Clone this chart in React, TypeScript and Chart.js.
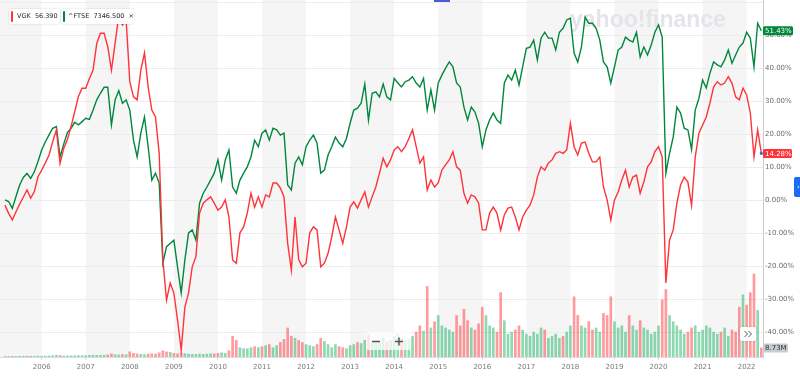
import { useEffect, useRef } from "react";
import { Chart, registerables } from "chart.js";

Chart.register(...registerables);

// First month of the data (March 2005), one value per month up to May 2022
const START_YEAR = 2005;
const START_MONTH = 3;

// VGK % change since start
const vgk = [
  -1.4, -3.9, -5.9, -3.4, -1.1, 1.0, 3.2, 0.7, 2.7, 7.2,
  9.2, 11.4, 13.8, 17.8, 21.4, 11.2, 15.8, 18.5, 22.4, 26.9, 31.5, 34.0,
  34.0, 37.0, 39.5, 47.6, 50.7, 50.7, 46.6, 39.5, 47.6, 56.2, 53.2, 54.7,
  36.0, 31.4, 30.5, 39.5, 44.7, 34.4, 27.4, 25.3, 14.3, -18.0, -30.2, -25.0,
  -28.0, -36.2, -45.3, -32.3, -28.0, -20.1, -17.0, -3.8, -0.8, 0.2, 1.1, -0.8,
  -2.9, -2.0, 0.2, -5.0, -18.0, -19.0, -9.8, -8.0, -3.8, 2.2, -2.0, 1.1,
  -2.0, 1.7, 1.1, 5.3, 5.3, 3.8, 1.1, -13.0, -21.1, -5.0, -18.0, -20.1,
  -19.0, -9.8, -8.0, -8.9, -20.1, -19.0, -16.0, -11.0, -5.0, -8.9, -13.0, -8.0,
  -2.0, -0.4, -2.3, 0.2, 2.6, -2.0, 1.1, 4.1, 8.3, 12.8, 10.2, 12.3,
  15.3, 16.3, 14.8, 16.3, 18.8, 21.4, 16.3, 11.3, 13.2, 3.2, 6.2, 4.1,
  5.3, 9.2, 10.8, 12.3, 14.8, 10.2, 9.2, 2.2, -0.8, 1.7, 1.1, -0.8,
  -8.9, -8.9, -3.8, -2.0, -3.8, -9.0, -4.4, -2.3, -2.0, -5.0, -8.9, -5.0,
  -2.9, -1.4, 1.7, 7.1, 10.2, 9.2, 11.3, 12.3, 14.3, 14.8, 14.3, 15.3,
  23.4, 16.3, 13.8, 17.4, 17.7, 14.3, 11.7, 11.7, 13.2, 4.1, 0.2, -5.9,
  0.2, 2.6, 6.2, 9.2, 4.1, 7.1, 7.7, 2.2, 5.6, 10.2, 11.7, 14.8,
  16.3, 13.2, -25.0, -12.0, -8.9, -0.8, 4.7, 7.1, 5.6, -1.5, 13.2, 20.4,
  22.9, 25.3, 29.5, 34.4, 36.0, 35.0, 35.6, 37.5, 35.6, 31.4, 30.5, 34.1,
  32.0, 26.5, 13.2, 21.4, 14.28,
];

// ^FTSE % change since start
const ftse = [
  0.2, -0.3, -2.4, 1.2, 4.7, 7.0, 8.2, 6.7, 8.7, 11.8,
  15.3, 17.8, 19.9, 21.9, 22.4, 13.2, 17.1, 20.6, 21.9, 23.7, 22.9, 23.9,
  24.9, 24.6, 27.4, 30.5, 32.5, 34.3, 34.3, 22.9, 30.5, 33.3, 29.5, 30.5,
  27.4, 18.3, 13.2, 20.4, 25.3, 16.3, 6.2, 8.3, 5.3, -19.0, -14.0, -13.0,
  -12.0, -20.1, -28.0, -18.0, -9.8, -8.9, -12.0, -0.8, 2.2, 4.1, 6.2, 8.3,
  12.3, 6.2, 12.3, 15.3, 4.1, 2.2, 6.2, 8.3, 10.2, 13.2, 18.3, 16.3,
  20.4, 21.4, 18.3, 21.9, 21.4, 19.8, 20.4, 4.7, 3.2, 11.3, 13.2, 10.8,
  16.3, 18.3, 19.8, 17.4, 8.3, 9.2, 13.8, 16.3, 19.2, 17.4, 16.3, 18.8,
  23.4, 27.4, 28.0, 29.5, 35.3, 24.4, 32.5, 32.9, 31.4, 35.3, 31.4, 30.5,
  37.0, 35.6, 34.4, 36.0, 36.5, 37.5, 35.6, 34.4, 37.0, 27.4, 33.5, 27.4,
  35.6, 38.0, 40.1, 42.0, 40.5, 35.6, 34.4, 28.3, 24.4, 28.3, 26.8, 23.4,
  16.3, 21.4, 24.4, 26.5, 24.4, 23.4, 35.6, 38.0, 36.5, 39.5, 35.0, 40.5,
  46.1, 46.5, 48.6, 42.6, 49.2, 51.0, 49.2, 49.2, 45.6, 51.0, 52.2, 54.7,
  55.3, 44.7, 42.0, 46.5, 55.6, 53.7, 53.7, 52.2, 48.6, 42.0, 40.5, 35.6,
  40.5, 45.6, 46.5, 49.5, 48.6, 48.0, 51.0, 43.5, 46.5, 44.1, 47.1, 51.0,
  53.2, 49.5, 8.3, 14.3, 19.2, 28.3, 26.5, 21.9, 21.4, 15.5, 27.4, 31.0,
  36.5, 34.1, 38.6, 42.0, 41.1, 40.5, 42.6, 45.6, 41.6, 44.1, 46.5, 47.7,
  51.0, 49.2, 40.5, 53.7, 51.43,
];

// VGK volume, millions
const volume = [
  0.5, 0.5, 0.6, 0.5, 0.6, 0.7, 0.8, 0.6, 0.7, 0.8,
  0.8, 0.9, 1.0, 1.2, 1.6, 1.5, 1.0, 1.0, 1.1, 1.2, 1.3, 1.4,
  1.4, 1.6, 1.8, 1.6, 1.5, 1.8, 2.0, 3.0, 2.2, 2.0, 2.4, 2.2,
  5.0, 3.5, 3.0, 2.6, 2.4, 2.8, 3.0, 2.8, 4.0, 6.0, 5.0, 4.5,
  3.5, 3.0, 4.0, 3.2, 2.8, 2.6, 2.6, 2.8, 2.6, 2.8, 3.2, 3.0,
  3.5, 4.0, 3.5, 6.0, 20.0, 16.0, 9.0, 8.0, 8.0, 9.0, 10.0, 9.0,
  10.0, 11.0, 12.0, 9.0, 11.0, 14.0, 17.0, 28.0, 20.0, 18.0, 16.0, 14.0,
  12.0, 11.0, 10.0, 12.0, 18.0, 15.0, 12.0, 9.0, 12.0, 10.0, 9.0, 8.0,
  11.0, 12.0, 14.0, 13.0, 16.0, 22.0, 14.0, 15.0, 14.0, 18.0, 15.0, 16.0,
  20.0, 22.0, 18.0, 16.0, 17.0, 20.0, 24.0, 30.0, 25.0, 68.0, 28.0, 34.0,
  40.0, 30.0, 28.0, 26.0, 24.0, 40.0, 30.0, 46.0, 35.0, 28.0, 26.0, 32.0,
  48.0, 40.0, 30.0, 28.0, 24.0, 62.0, 35.0, 22.0, 24.0, 26.0, 30.0, 26.0,
  22.0, 20.0, 24.0, 22.0, 28.0, 26.0, 18.0, 20.0, 22.0, 18.0, 20.0, 24.0,
  30.0, 58.0, 40.0, 30.0, 28.0, 34.0, 26.0, 28.0, 24.0, 42.0, 40.0, 58.0,
  34.0, 28.0, 30.0, 24.0, 40.0, 30.0, 26.0, 35.0, 28.0, 26.0, 22.0, 24.0,
  30.0, 55.0, 65.0, 40.0, 34.0, 30.0, 26.0, 22.0, 24.0, 28.0, 30.0, 24.0,
  26.0, 30.0, 28.0, 24.0, 22.0, 24.0, 28.0, 20.0, 26.0, 24.0, 48.0, 60.0,
  50.0, 62.0, 80.0, 45.0, 8.73,
];

const yearTicks = [2006, 2007, 2008, 2009, 2010, 2011, 2012, 2013, 2014, 2015, 2016, 2017, 2018, 2019, 2020, 2021, 2022];
const pctTicks = [-40, -30, -20, -10, 0, 10, 20, 30, 40, 50, 60];
const shadedYears = [2005, 2007, 2009, 2011, 2013, 2015, 2017, 2019, 2021];

const vgkQuote = "56.390";
const ftseQuote = "7346.500";
const vgkBadge = "14.28%";
const ftseBadge = "51.43%";
const volBadge = "8.73M";

const months = vgk.map((_, i) => {
  const m = START_MONTH - 1 + i;
  return `${START_YEAR + Math.floor(m / 12)}-${String((m % 12) + 1).padStart(2, "0")}`;
});
const toYear = (label: string) => {
  const [y, m] = label.split("-").map(Number);
  return y + (m - 1) / 12;
};

const RED = "#ff333a";
const GREEN = "#00873c";
const FONT = "'DejaVu Sans', sans-serif";

function roundRect(ctx: CanvasRenderingContext2D, x: number, y: number, w: number, h: number, r: number) {
  ctx.beginPath();
  ctx.moveTo(x + r, y);
  ctx.lineTo(x + w - r, y);
  ctx.quadraticCurveTo(x + w, y, x + w, y + r);
  ctx.lineTo(x + w, y + h - r);
  ctx.quadraticCurveTo(x + w, y + h, x + w - r, y + h);
  ctx.lineTo(x + r, y + h);
  ctx.quadraticCurveTo(x, y + h, x, y + h - r);
  ctx.lineTo(x, y + r);
  ctx.quadraticCurveTo(x, y, x + r, y);
  ctx.closePath();
}

const bgPlugin = {
  id: "bgBands",
  beforeDraw(chart: any) {
    const { ctx, chartArea, scales } = chart;
    ctx.save();
    ctx.fillStyle = "#ffffff";
    ctx.fillRect(0, 0, chart.width, chart.height);
    ctx.fillStyle = "#f5f5f5";
    shadedYears.forEach((yr) => {
      const x0 = Math.max(chartArea.left, scales.x.getPixelForValue(yr));
      const x1 = Math.min(chartArea.right, scales.x.getPixelForValue(yr + 1));
      if (x1 > x0) ctx.fillRect(x0, chartArea.top, x1 - x0, chartArea.bottom - chartArea.top);
    });
    ctx.restore();
  },
  beforeDatasetsDraw(chart: any) {
    const { ctx } = chart;
    ctx.save();
    ctx.fillStyle = "#e4e4ea";
    ctx.font = `bold 23px 'Liberation Sans', Arial, sans-serif`;
    ctx.textBaseline = "alphabetic";
    ctx.textAlign = "left";
    ctx.fillText("yahoo!finance", 570, 27);
    ctx.restore();
  },
};

const overlayPlugin = {
  id: "overlays",
  afterDraw(chart: any) {
    const { ctx, chartArea, scales } = chart;
    ctx.save();
    const badge = (text: string, value: number, bg: string, fg: string, w: number) => {
      const y = scales.y.getPixelForValue(value);
      ctx.fillStyle = bg;
      roundRect(ctx, chartArea.right, y - 4.5, w, 9, 1.5);
      ctx.fill();
      ctx.fillStyle = fg;
      ctx.font = `7px ${FONT}`;
      ctx.textAlign = "left";
      ctx.textBaseline = "middle";
      ctx.fillText(text, chartArea.right + 2, y + 0.5);
    };
    badge(ftseBadge, ftse[ftse.length - 1], GREEN, "#ffffff", 30);
    badge(vgkBadge, vgk[vgk.length - 1], RED, "#ffffff", 29);

    // volume badge
    const vy = scales.yv.getPixelForValue(volume[volume.length - 1]);
    ctx.fillStyle = "#c8cbd2";
    roundRect(ctx, chartArea.right, vy - 4.5, 25, 9, 1.5);
    ctx.fill();
    ctx.fillStyle = "#2c2f36";
    ctx.font = `7px ${FONT}`;
    ctx.textBaseline = "middle";
    ctx.fillText(volBadge, chartArea.right + 2, vy + 0.5);

    // end point dot
    const ex = scales.x.getPixelForValue(toYear(months[months.length - 1]));
    const ey = scales.y.getPixelForValue(vgk[vgk.length - 1]);
    ctx.fillStyle = "#2a6cf0";
    ctx.beginPath();
    ctx.arc(ex, ey, 1.6, 0, Math.PI * 2);
    ctx.fill();

    // blue side tab
    ctx.fillStyle = "#1a6cf5";
    roundRect(ctx, 794, 177, 10, 20, 2);
    ctx.fill();
    ctx.fillStyle = "#ffffff";
    ctx.font = `7px ${FONT}`;
    ctx.fillText("›", 797, 187);

    // top blue marker
    ctx.fillStyle = "#4b5bd6";
    ctx.fillRect(434, 0, 16, 2);

    // zoom panel
    ctx.fillStyle = "rgba(255,255,255,0.75)";
    roundRect(ctx, 366, 332, 45, 18, 2);
    ctx.fill();
    ctx.strokeStyle = "#555";
    ctx.lineWidth = 1.5;
    ctx.beginPath();
    ctx.moveTo(372, 341.5);
    ctx.lineTo(380, 341.5);
    ctx.moveTo(395, 341.5);
    ctx.lineTo(403, 341.5);
    ctx.moveTo(399, 337.5);
    ctx.lineTo(399, 345.5);
    ctx.stroke();

    // forward button
    ctx.shadowColor = "rgba(0,0,0,0.2)";
    ctx.shadowBlur = 2;
    ctx.fillStyle = "#ffffff";
    roundRect(ctx, 740, 327, 16, 14, 2);
    ctx.fill();
    ctx.shadowBlur = 0;
    ctx.strokeStyle = "#555";
    ctx.lineWidth = 1;
    ctx.beginPath();
    ctx.moveTo(744.5, 331);
    ctx.lineTo(747.5, 334);
    ctx.lineTo(744.5, 337);
    ctx.moveTo(748.5, 331);
    ctx.lineTo(751.5, 334);
    ctx.lineTo(748.5, 337);
    ctx.stroke();
    ctx.restore();
  },
};

export default function App() {
  const canvasRef = useRef<HTMLCanvasElement | null>(null);

  useEffect(() => {
    document.body.style.margin = "0";
    const canvas = canvasRef.current;
    if (!canvas) return;
    const xs = months.map(toYear);
    const chart = new Chart(canvas, {
      type: "line",
      data: {
        datasets: [
          {
            type: "line",
            label: "VGK",
            data: xs.map((x, i) => ({ x, y: vgk[i] })),
            borderColor: RED,
            borderWidth: 1.4,
            pointRadius: 0,
            tension: 0,
            yAxisID: "y",
            order: 1,
          },
          {
            type: "line",
            label: "^FTSE",
            data: xs.map((x, i) => ({ x, y: ftse[i] })),
            borderColor: GREEN,
            borderWidth: 1.4,
            pointRadius: 0,
            tension: 0,
            yAxisID: "y",
            order: 2,
          },
          {
            type: "bar",
            label: "Volume",
            data: xs.map((x, i) => ({ x, y: volume[i] })),
            backgroundColor: volume.map((_, i) =>
              i > 0 && vgk[i] < vgk[i - 1] ? "rgba(255,55,60,0.5)" : "rgba(0,170,85,0.45)"
            ),
            barThickness: 2,
            yAxisID: "yv",
            order: 3,
          },
        ] as any,
      },
      options: {
        animation: false,
        responsive: false,
        maintainAspectRatio: false,
        layout: { padding: 0, autoPadding: false },
        plugins: { legend: { display: false }, tooltip: { enabled: false } },
        scales: {
          x: {
            type: "linear",
            offset: false,
            min: 2005.054,
            max: 2022.371,
            afterBuildTicks: (s: any) => {
              s.ticks = yearTicks.map((v) => ({ value: v }));
            },
            afterFit: (s: any) => {
              s.height = 25;
              s.paddingLeft = 0;
              s.paddingRight = 0;
            },
            ticks: {
              autoSkip: false,
              maxRotation: 0,
              padding: 3,
              color: "#7a7a7a",
              font: { family: FONT, size: 7 },
              callback: (v: any) => String(v),
            },
            grid: { offset: false, drawOnChartArea: false, tickLength: 3, color: "#d8d8d8" },
            border: { color: "#dddddd" },
          },
          y: {
            type: "linear",
            position: "right",
            min: -47.42,
            max: 60.76,
            afterBuildTicks: (s: any) => {
              s.ticks = pctTicks.map((v) => ({ value: v }));
            },
            afterFit: (s: any) => {
              s.width = 37;
              s.paddingTop = 0;
              s.paddingBottom = 0;
            },
            ticks: {
              autoSkip: false,
              padding: 2,
              color: "#6b6b6b",
              font: { family: FONT, size: 7 },
              callback: (v: any) => (v === 60 ? "" : `${Number(v).toFixed(2)}%`),
            },
            grid: { color: "#ececec", drawTicks: false },
            border: { color: "#cccccc" },
          },
          yv: {
            type: "linear",
            display: false,
            min: 0,
            max: 344,
          },
        },
      } as any,
      plugins: [bgPlugin, overlayPlugin],
    });
    return () => chart.destroy();
  }, []);

  const chip: any = {
    position: "absolute",
    top: 9,
    height: 15,
    background: "#ffffff",
    boxShadow: "0 0 2px rgba(0,0,0,0.18)",
    borderRadius: 2,
    fontFamily: FONT,
    fontSize: 6.5,
    lineHeight: "15px",
    color: "#232a31",
    whiteSpace: "nowrap",
  };
  const bar = (color: string): any => ({
    position: "absolute",
    left: 2,
    top: 2,
    width: 2,
    height: 11,
    background: color,
    borderRadius: 1,
  });

  return (
    <div style={{ position: "relative", width: 800, height: 382, overflow: "hidden" }}>
      <canvas ref={canvasRef} width={800} height={382} style={{ display: "block", width: 800, height: 382 }} />
      <div style={{ ...chip, left: 9, width: 51 }}>
        <div style={bar(RED)} />
        <span style={{ position: "absolute", left: 8 }}>VGK&nbsp;&nbsp;{vgkQuote}</span>
      </div>
      <div style={{ ...chip, left: 61, width: 73 }}>
        <div style={bar(GREEN)} />
        <span style={{ position: "absolute", left: 7 }}>^FTSE&nbsp;&nbsp;{ftseQuote}&nbsp;&nbsp;×</span>
      </div>
    </div>
  );
}
